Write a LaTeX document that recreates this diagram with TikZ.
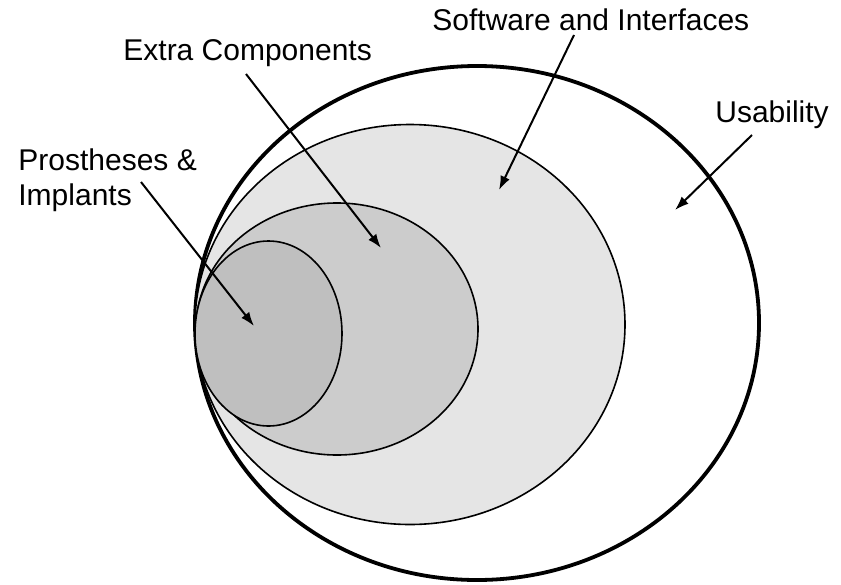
\documentclass[tikz,border=0pt]{standalone}
\usepackage{fontspec}
\setmainfont{Liberation Sans}
\usepackage{tikz}
\usetikzlibrary{arrows.meta}
\usetikzlibrary{positioning}

\definecolor{softgray}{gray}{0.9}
\definecolor{extragray}{gray}{0.8}
\definecolor{protgray}{gray}{0.75}

\tikzset{
	label text/.style={inner sep=0pt,font=\fontsize{15}{17.5}\selectfont},
	pointer/.style={-{Latex[length=7pt,width=5pt]},line width=1pt},
	set line/.style={draw=black,line width=0.8pt}
}

\begin{document}
\begin{tikzpicture}[x=0.5pt,y=-0.5pt]
		\useasboundingbox (0,0) rectangle (841,584);
		% nested sets
		\draw[line width=1.9pt,fill=white] (477,323) ellipse [x radius=141pt,y radius=128.5pt];
		\draw[set line,fill=softgray] (410,324.5) ellipse [x radius=107.5pt,y radius=100pt];
		\draw[set line,fill=extragray] (337,329) ellipse [x radius=70.5pt,y radius=63pt];
		\draw[set line,fill=protgray] (268.5,333.5) ellipse [x radius=36.75pt,y radius=46.25pt];
		% labels
		\node[label text,anchor=base west] (extra) at (123,60) {Extra Components};
		\node[label text,anchor=base west] (soft) at (432,30) {Software and Interfaces};
		\node[label text,anchor=base west] (usab) at (715,122) {Usability};
		\node[label text,anchor=north west,align=left] (prot) at (18,148) {Prostheses \&\\Implants};
		% arrows
		\coordinate (extra from) at (246,74);
		\coordinate (extra to) at (381,248);
		\coordinate (soft from) at (574,35);
		\coordinate (soft to) at (499,190);
		\coordinate (usab from) at (752,135);
		\coordinate (usab to) at (675,210);
		\coordinate (prot from) at (141,182);
		\coordinate (prot to) at (254,326);
		\draw[pointer] (extra from) -- (extra to);
		\draw[pointer] (soft from) -- (soft to);
		\draw[pointer] (usab from) -- (usab to);
		\draw[pointer] (prot from) -- (prot to);
	\end{tikzpicture}
\end{document}
